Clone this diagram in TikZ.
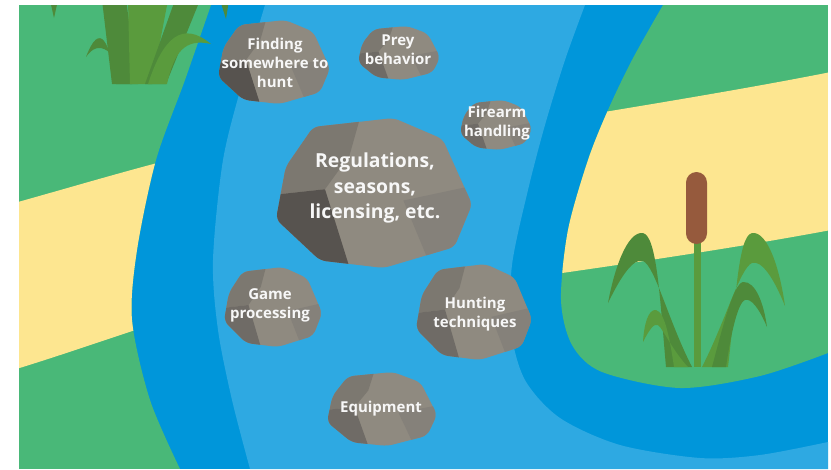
\documentclass[tikz,border=0pt]{standalone}
\usepackage{fontspec}
\setmainfont{Open Sans}
\usepackage{tikz}

\definecolor{riverdark}{HTML}{0096DA}
\definecolor{riverlight}{HTML}{2EA9E2}
\definecolor{bankgreen}{HTML}{49B878}
\definecolor{pathyellow}{HTML}{FDE690}
\definecolor{grassdark}{HTML}{4E8A3A}
\definecolor{grasslight}{HTML}{5A9B3D}
\definecolor{tailbrown}{HTML}{965A3D}
\definecolor{rockbase}{HTML}{8F8A80}
\definecolor{rockface}{HTML}{7C7870}
\definecolor{rockside}{HTML}{85817A}
\definecolor{rockshade}{HTML}{57534F}
\definecolor{rocksoft}{HTML}{6F6B66}

\begin{document}
\begin{tikzpicture}[
    x=0.03cm, y=-0.03cm,
    rocktext/.style={align=center, text=white!94!gray, inner sep=0pt,
        font=\bfseries\fontsize{12.8}{16.3}\selectfont},
    bigtext/.style={rocktext, font=\bfseries\fontsize{16.5}{22}\selectfont},
    rock/.pic={
        \begin{scope}
        \clip[rounded corners=5pt] (-0.62,-0.88) -- (0.2,-1) -- (0.7,-0.72) -- (1,0.15)
            -- (0.82,0.72) -- (0.1,1) -- (-0.55,0.9) -- (-1,0.35) -- (-0.9,-0.35) -- cycle;
        \fill[rockbase] (-1.2,-1.2) rectangle (1.2,1.2);
        \fill[rockface] (-1.2,-1.2) -- (-0.1,-1.2) -- (-0.25,-0.5) -- (-0.5,-0.05) -- (-1.2,0.05) -- cycle;
        \fill[#1] (-1.2,0.05) -- (-0.5,-0.05) -- (-0.2,1.2) -- (-1.2,1.2) -- cycle;
        \fill[rockside] (0.3,0.1) -- (1.2,-0.15) -- (1.2,1.2) -- (0.65,1.2) -- cycle;
        \end{scope}
    }
]
    \useasboundingbox (0,0) rectangle (831,469);
    \fill[white] (0,0) rectangle (831,469);
    \clip (19,5) rectangle (828,469);

    % river: dark edges, light middle
    \fill[riverdark] (19,5) rectangle (828,469);
    \fill[riverlight] plot[smooth] coordinates {(265,5) (243,80) (223,160) (213,260) (218,330) (232,400) (250,469)}
        -- (828,469) -- plot[smooth] coordinates {(828,442) (760,455) (700,458) (620,445) (560,418)
        (525,380) (511,330) (512,265) (528,190) (545,125) (565,60) (585,5)} -- cycle;

    % left bank with its path
    \begin{scope}
        \clip (19,5) -- plot[smooth] coordinates {(211,5) (185,80) (156,160) (137,250) (132,320) (150,400) (180,469)}
            -- (19,469) -- cycle;
        \fill[bankgreen] (0,0) rectangle (300,469);
        \fill[pathyellow] (0,207) .. controls (80,185) and (160,160) .. (240,143)
            -- (240,297) .. controls (160,320) and (80,350) .. (0,374) -- cycle;
    \end{scope}

    % right bank with its path
    \begin{scope}
        \clip (828,5) -- plot[smooth] coordinates {(663,5) (632,60) (608,110) (588,160) (568,230)
            (561,300) (572,345) (602,372) (680,388) (760,376) (828,353)} -- cycle;
        \fill[bankgreen] (520,0) rectangle (831,469);
        \fill[pathyellow] (520,126) .. controls (640,106) and (740,90) .. (831,72)
            -- (831,230) .. controls (740,247) and (640,262) .. (520,279) -- cycle;
    \end{scope}

    % grass clump, top left
    \fill[grassdark] (50,0) -- (58,0) -- (54,18) -- cycle;
    \fill[grassdark] (220,0) -- (229,0) -- (226,19) -- cycle;
    \fill[grassdark] (116,84) .. controls (110,42) and (100,20) .. (86,57)
        .. controls (99,38) and (114,50) .. (132,84) -- cycle;
    \fill[grassdark] (112,84) -- (102,0) -- (126,0) -- (138,84) -- cycle;
    \fill[grasslight] (130,84) -- (128,0) -- (168,0) -- (152,84) -- cycle;
    \fill[grassdark] (145,84) -- (175,0) -- (200,0) -- (166,84) -- cycle;
    \fill[grasslight] (148,84) .. controls (163,38) and (182,20) .. (211,44)
        .. controls (185,38) and (174,52) .. (167,84) -- cycle;

    % cattail, right bank
    \fill[grasslight] (694,240) rectangle (701,367);
    \fill[grassdark] (666,367) .. controls (660,300) and (657,236) .. (643,233)
        .. controls (627,231) and (614,270) .. (608,303)
        .. controls (622,274) and (634,258) .. (643,261)
        .. controls (655,266) and (668,320) .. (692,367) -- cycle;
    \fill[grasslight] (728,367) .. controls (736,300) and (738,236) .. (752,233)
        .. controls (768,231) and (780,270) .. (785,306)
        .. controls (773,276) and (761,260) .. (752,263)
        .. controls (740,268) and (726,320) .. (702,367) -- cycle;
    \fill[grasslight] (674,367) .. controls (670,340) and (665,312) .. (656,310)
        .. controls (648,309) and (644,325) .. (643,342)
        .. controls (649,330) and (654,323) .. (658,325)
        .. controls (664,330) and (672,350) .. (688,367) -- cycle;
    \fill[grassdark] (712,367) .. controls (722,330) and (733,284) .. (743,282)
        .. controls (756,281) and (764,305) .. (767,327)
        .. controls (759,308) and (751,298) .. (745,300)
        .. controls (737,303) and (730,340) .. (726,367) -- cycle;
    \fill[tailbrown, rounded corners=9pt] (686,172) rectangle (707,244);

    % stepping stones
    \pic[xscale=56, yscale=42] at (274,62) {rock=rockshade};
    \pic[xscale=41, yscale=27] at (399,53) {rock=rocksoft};
    \pic[xscale=36, yscale=25] at (496,125) {rock=rocksoft};
    \pic[xscale=98, yscale=75] at (374,193) {rock=rockshade};
    \pic[xscale=49, yscale=40] at (273,307) {rock=rocksoft};
    \pic[xscale=58, yscale=48] at (474,312) {rock=rocksoft};
    \pic[xscale=55, yscale=37] at (382,409) {rock=rocksoft};

    \node[rocktext] (finding) at (275,63) {Finding\\somewhere to\\hunt};
    \node[rocktext] (prey) at (398,50) {Prey\\behavior};
    \node[rocktext] (firearm) at (497,123) {Firearm\\handling};
    \node[bigtext] (regulations) at (375,188) {Regulations,\\seasons,\\licensing, etc.};
    \node[rocktext] (game) at (270,305) {Game\\processing};
    \node[rocktext] (hunting) at (475,314) {Hunting\\techniques};
    \node[rocktext] (equipment) at (381,409) {Equipment};
\end{tikzpicture}
\end{document}
